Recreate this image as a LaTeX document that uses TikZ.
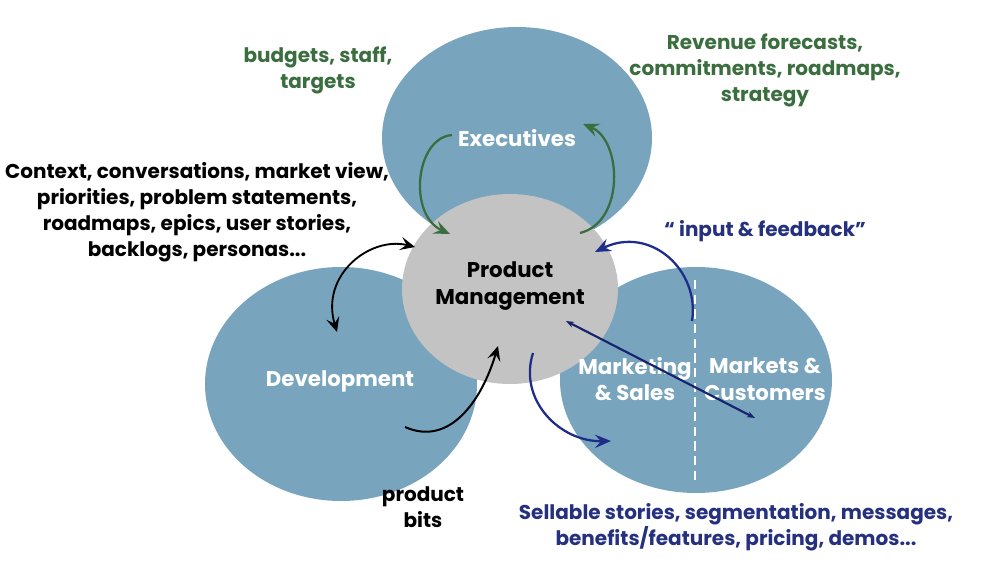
\documentclass[tikz,border=0pt]{standalone}
\usepackage{fontspec}
\setmainfont{Poppins}
\usetikzlibrary{arrows.meta}
\definecolor{blobblue}{HTML}{78A4BE}
\definecolor{pmgray}{HTML}{C3C3C3}
\definecolor{txtgreen}{HTML}{3B6E3F}
\definecolor{txtnavy}{HTML}{25307E}
\definecolor{arrnavy}{HTML}{1E2C8A}
\tikzset{
  lbl/.style={font=\bfseries\fontsize{15}{19.5}\selectfont, align=center, inner sep=0pt},
  biglbl/.style={font=\bfseries\fontsize{16}{20}\selectfont, align=center, inner sep=0pt},
  wlbl/.style={biglbl, text=white},
  greenarr/.style={draw=txtgreen, line width=1.7pt, -{Stealth[length=12pt,width=10pt,inset=4.5pt]}},
  blackarr/.style={draw=black, line width=1.4pt, {Stealth[length=11pt,width=10pt,inset=4.5pt]}-{Stealth[length=11pt,width=10pt,inset=4.5pt]}},
  blackone/.style={draw=black, line width=1.5pt, -{Stealth[length=11pt,width=10pt,inset=4.5pt]}},
  navyarr/.style={draw=arrnavy, line width=1.7pt, -{Stealth[length=12pt,width=10pt,inset=4.5pt]}},
  navyline/.style={draw=arrnavy!80!black, line width=1.6pt, {Stealth[length=6pt,width=4.5pt]}-{Stealth[length=6pt,width=4.5pt]}},
}
\begin{document}
\begin{tikzpicture}[x=0.75pt,y=-0.75pt]
\useasboundingbox (0,0) rectangle (1001,571);
\fill[white] (0,0) rectangle (1001,571);
% blobs
\path[fill=blobblue] (517,138) ellipse [x radius=135, y radius=111];
\path[fill=blobblue] (341,384) ellipse [x radius=136, y radius=117];
\path[fill=blobblue] (696,380) ellipse [x radius=136, y radius=113];
\path[fill=pmgray] (510,289) ellipse [x radius=108, y radius=95];
% dashed divider
\coordinate (dtop) at (695,280);
\coordinate (dbot) at (695,482);
\draw[white, line width=1.4pt, dash pattern=on 7pt off 4pt] (dtop) -- (dbot);
% labels
\node[wlbl] (exec) at (517,138) {Executives};
\node[wlbl] (dev) at (340,381) {Development};
\node[wlbl] (mks) at (635,379) {Marketing\\\& Sales};
\node[wlbl] (mkc) at (765,379) {Markets \&\\Customers};
\node[biglbl] (pm) at (510,286) {Product\\Management};
\node[lbl, text=txtgreen] (bud) at (318,70) {budgets, staff,\\targets};
\node[lbl, text=txtgreen] (rev) at (765,70) {Revenue forecasts,\\commitments, roadmaps,\\strategy};
\node[lbl] (ctx) at (197,212) {Context, conversations, market view,\\priorities, problem statements,\\roadmaps, epics, user stories,\\backlogs, personas...};
\node[lbl, text=txtnavy] (inp) at (765,231) {“ input \& feedback”};
\node[lbl] (bits) at (423,507) {product\\bits};
\node[lbl, text=txtnavy] (sell) at (736,527) {Sellable stories, segmentation, messages,\\benefits/features, pricing, demos...};
% arrow end points
\coordinate (g1s) at (452,135);
\coordinate (g1e) at (450,234);
\coordinate (g2s) at (580,233);
\coordinate (g2e) at (583,124);
\coordinate (b1s) at (415,247);
\coordinate (b1e) at (337,332);
\coordinate (b2s) at (405,427);
\coordinate (b2e) at (498,346);
\coordinate (n1s) at (692,321);
\coordinate (n1e) at (595,252);
\coordinate (n2s) at (533,353);
\coordinate (n2e) at (611,441);
\coordinate (n3s) at (566,321);
\coordinate (n3e) at (755,418);
% arrows
\draw[greenarr] (g1s) .. controls (415,138) and (408,215) .. (g1e);
\draw[greenarr] (g2s) .. controls (625,222) and (622,140) .. (g2e);
\draw[blackarr] (b1s) .. controls (370,236) and (320,275) .. (b1e);
\draw[blackone] (b2s) .. controls (450,447) and (482,400) .. (b2e);
\draw[navyarr] (n1s) .. controls (700,270) and (650,225) .. (n1e);
\draw[navyarr] (n2s) .. controls (518,400) and (560,442) .. (n2e);
\draw[navyline] (n3s) -- (n3e);
\end{tikzpicture}
\end{document}
